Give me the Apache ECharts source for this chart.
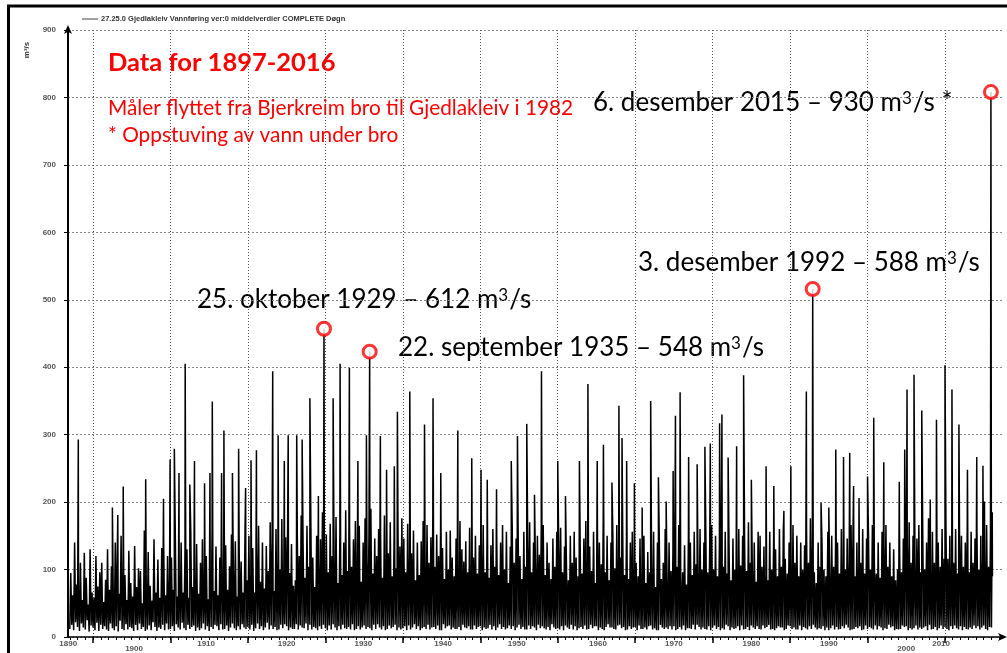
<!DOCTYPE html>
<html><head><meta charset="utf-8">
<script src="https://cdn.jsdelivr.net/npm/echarts@6/dist/echarts.min.js"></script>
<style>html,body{margin:0;padding:0;background:#fff}#c{width:1007px;height:653px}</style>
</head><body><div id="c"></div>
<script>
// ---- Data (daily mean discharge, m3/s) ----
// body samples: 8 per year, alternating low / high
const flow1890s = [ // 1897-1899
 12,95,18,62,10,140,22,78,
 15,70,9,110,20,55,14,125,
 11,88,25,48,8,130,17,66 ];
const flow1900s = [
 14,58,10,120,21,75,9,96, 18,110,12,52,16,85,11,130, 9,70,20,105,13,48,10,140,
 16,118,8,64,24,150,12,72, 10,92,19,55,11,128,15,80, 13,60,9,135,18,74,10,102,
 20,98,12,50,15,158,9,68, 11,126,17,76,10,54,22,145, 15,66,9,115,14,58,12,132,
 18,140,10,62,20,120,11,84 ];
const flow1910s = [
 12,118,16,70,9,150,19,60, 14,92,11,140,21,66,13,128, 10,130,18,58,12,155,15,74,
 17,86,9,138,14,64,10,110, 13,145,20,72,11,120,16,56, 9,100,15,160,12,68,18,134,
 16,62,10,118,19,150,11,88, 12,136,17,70,9,105,14,152, 20,94,13,142,10,60,16,124,
 11,112,19,66,14,158,12,84 ];
const flow1920s = [
 15,150,11,78,18,132,9,66, 13,120,20,165,12,82,16,140, 10,72,14,135,21,98,11,170,
 17,142,12,68,15,160,10,112, 11,100,18,175,13,70,19,148, 16,162,10,95,14,138,12,76,
 12,84,19,152,11,120,17,180, 14,136,13,88,20,165,10,104, 18,172,11,118,15,74,13,150,
 10,108,16,145,12,185,18,90 ];
const flow1930s = [
 13,152,10,96,17,168,11,120, 19,110,14,178,10,80,16,156, 11,92,18,140,13,188,12,98,
 15,160,11,104,19,145,10,172, 12,118,16,165,11,82,14,140, 17,176,12,112,15,150,13,190,
 10,94,18,146,12,120,19,160, 14,158,11,88,16,180,10,115, 12,124,17,170,13,90,15,152,
 18,102,10,162,14,134,11,176 ];
const flow1940s = [
 13,146,16,96,10,168,17,118, 11,124,14,158,19,84,12,140, 16,92,10,142,13,172,15,106,
 12,166,18,110,11,148,14,182, 15,104,12,152,17,120,10,160, 10,132,19,86,13,156,16,100,
 17,158,11,118,14,90,12,146, 12,98,15,172,10,130,18,112, 14,142,13,96,16,162,11,82,
 11,118,17,150,12,94,15,136 ];
const flow1950s = [
 16,128,10,166,14,96,12,150, 13,88,18,136,11,160,16,104, 10,150,14,92,19,140,12,166,
 15,100,11,156,13,80,17,134, 12,162,16,110,10,146,14,176, 18,120,12,86,15,156,11,104,
 11,144,17,170,12,96,16,140, 14,104,10,150,18,122,13,168, 16,166,13,92,11,140,15,110,
 10,86,19,146,14,104,12,156 ];
const flow1960s = [
 13,140,11,162,16,96,10,134, 17,106,14,84,12,150,18,110, 11,156,16,118,10,90,13,166,
 15,94,12,146,17,172,11,116, 12,134,18,98,13,156,16,80, 16,162,10,140,14,108,12,176,
 10,96,15,150,19,84,14,140, 14,146,12,102,11,166,17,116, 18,118,13,176,15,92,10,150,
 11,86,16,140,12,156,14,100 ];
const flow1970s = [
 15,110,10,90,17,146,12,70, 12,150,14,80,11,126,16,96, 17,92,11,156,13,74,10,140,
 10,134,18,86,14,110,12,160, 14,76,12,140,16,98,11,128, 16,156,10,104,12,166,15,90,
 11,96,17,136,10,78,13,150, 13,140,12,92,18,156,11,108, 18,84,15,160,11,100,14,140,
 12,150,11,96,16,134,10,166 ];
const flow1980s = [
 14,100,17,150,12,90,15,140, 10,166,13,104,11,156,18,94, 16,128,10,84,14,146,12,100,
 13,90,16,160,10,106,17,150, 11,146,12,98,15,170,10,110, 17,96,14,140,12,82,16,156,
 12,150,11,104,17,134,13,90, 15,84,18,156,11,100,12,146, 10,130,13,90,16,160,14,104,
 14,156,10,116,12,94,17,140 ];
const flow1990s = [
 16,104,12,166,14,110,11,150, 11,90,17,140,10,100,15,136, 13,160,11,110,16,176,12,146,
 18,96,14,80,11,140,13,104, 12,136,16,100,10,90,14,156, 10,84,13,150,17,104,11,140,
 15,140,11,94,12,160,16,88, 13,100,18,146,14,110,10,166, 11,156,12,90,15,140,13,104,
 16,110,10,160,11,94,17,146 ];
const flow2000s = [
 12,150,15,100,13,166,11,116, 17,94,11,140,16,88,14,156, 10,136,13,166,12,104,18,140,
 14,90,16,130,10,84,12,100, 11,156,12,96,17,146,15,166, 16,140,10,170,13,110,11,150,
 13,104,17,146,11,166,14,96, 12,160,14,100,16,140,10,176, 18,96,11,156,12,110,15,146,
 10,140,13,104,17,160,12,116 ];
const flow2010s = [ // 2010-2016
 15,166,12,116,10,150,16,104, 12,110,17,160,13,94,11,156, 16,150,10,104,15,140,12,170,
 11,96,14,156,12,110,17,146, 13,160,16,100,11,150,14,116, 17,116,12,166,10,104,15,156,
 14,90 ];
const bodyStartYears = [1897,1900,1910,1920,1930,1940,1950,1960,1970,1980,1990,2000,2010];

// larger flood peaks (decimal year, m3/s)
const peakYears = [
 1898.1,1902.5,1903.2,1903.9,1906.8,1909.1,1909.95,
 1910.5,1911.1,1911.9,1912.5,1913.1,1914.4,1915.1,1915.4,1916.6,1916.9,1918.0,1918.8,1919.7,
 1920.4,1921.1,1923.2,1923.9,1924.7,1925.2,1926.3,1927.0,1928.0,1929.1,
 1931.0,1931.9,1933.1,1934.2,1935.3,1937.1,1937.9,1938.9,1939.3,
 1940.9,1942.8,1943.9,1944.9,1947.1,1948.9,
 1950.1,1950.9,1952.1,1954.0,1954.8,1956.0,1957.0,1957.9,
 1960.0,1961.0,1962.8,1963.9,1965.1,1965.9,1967.0,1967.9,1968.3,1968.9,1969.9,
 1970.9,1972.0,1973.0,1974.0,1974.9,1975.2,1975.8,1976.9,1978.0,1979.0,1979.7,
 1980.9,1981.2,1982.0,1983.1,1984.0,1985.0,1986.9,1987.9,1989.2,
 1990.1,1992.1,1994.0,1995.0,1995.9,1996.9,1997.7,1998.2,1998.9,
 2000.0,2000.8,2002.1,2004.1,2004.8,2005.1,2006.0,2007.0,2008.1,2008.9,
 2010.0,2010.9,2011.8,2012.9,2014.1,2014.9,2015.1,2016.1 ];
const peakFlows = [
 293,192,181,223,234,205,263,
 279,243,405,226,261,228,243,349,243,306,243,279,221,
 262,277,394,299,261,299,299,293,354,209,
 354,405,399,261,299,298,248,253,334,
 364,315,354,243,306,265,
 248,233,219,261,298,316,211,394,
 261,209,261,375,261,285,229,343,295,261,228,
 192,350,237,201,246,328,363,267,256,282,287,
 317,330,266,283,388,233,253,224,187,
 253,364,199,192,278,267,273,224,206,
 238,325,259,230,278,367,389,336,204,322,
 403,367,315,248,267,254,201,185 ];

// annotated record floods
const annotYears = [1929.82, 1935.72, 1992.92, 2015.93];
const annotFlows = [457, 423, 516, 808];
const annotTexts = ['25. oktober 1929 – 612 m³/s', '22. september 1935 – 548 m³/s',
                    '3. desember 1992 – 588 m³/s', '6. desember 2015 – 930 m³/s *'];

// axis labels (the original software prints decade labels mid-decade)
const xLabelText = ['1890','1900','1910','1920','1930','1940','1950','1960','1970','1980','1990','2000','2010'];
const xLabelPos  = [1896.8,1905.3,1914.6,1925.0,1934.9,1945.2,1954.7,1965.2,1975.0,1985.0,1995.0,2005.0,2009.5];
const decadeTicks = [1900,1910,1920,1930,1940,1950,1960,1970,1980,1990,2000,2010];
const yearTicks = [];
for (let y = 1897; y <= 2017; y++) yearTicks.push(y);

const seriesName = '27.25.0 Gjedlakleiv Vannføring ver:0 middelverdier COMPLETE Døgn';

// ---- build the line ----
const bodyArrays = [flow1890s,flow1900s,flow1910s,flow1920s,flow1930s,flow1940s,flow1950s,
  flow1960s,flow1970s,flow1980s,flow1990s,flow2000s,flow2010s];
let pts = [];
bodyArrays.forEach((arr, k) => arr.forEach((v, i) => pts.push([bodyStartYears[k] + i / 8, v])));
peakYears.forEach((t, i) => pts.push([t, peakFlows[i]]));
annotYears.forEach((t, i) => pts.push([t, annotFlows[i]]));
pts.sort((a, b) => a[0] - b[0]);

const FONT = 'Lato';
function supText(s) { return s.replace('³', '{sup|3}'); }
function annot(x, y, s) {
  return {type: 'text', x: x, y: y, style: {
    text: supText(s), font: '26px ' + FONT, fill: '#000', verticalAlign: 'middle',
    rich: {sup: {font: '17px ' + FONT, fill: '#000', verticalAlign: 'top', padding: [0, 1, 0, 0]}}
  }};
}

const chart = echarts.init(document.getElementById('c'), null, {renderer: 'canvas'});
chart.setOption({
  animation: false,
  backgroundColor: '#fff',
  grid: {left: 68, right: 4, top: 30, bottom: 15, containLabel: false},
  legend: {
    data: [{name: seriesName, icon: 'rect'}],
    left: 77, top: 10, itemWidth: 16, itemHeight: 1, itemGap: 4,
    textStyle: {fontSize: 7.5, fontWeight: 'bold', color: '#333', fontFamily: 'Liberation Sans', padding: [0,0,0,-2]}
  },
  xAxis: [{
    type: 'value', min: 1896.77, max: 2017.49,
    axisLine: {lineStyle: {color: '#000', width: 1.5}, symbol: ['none', 'arrow'], symbolSize: [6, 9], symbolOffset: [0, 4]},
    axisTick: {customValues: decadeTicks, length: 6, lineStyle: {color: '#000', width: 1.5}},
    axisLabel: {
      customValues: xLabelPos, margin: 3,
      fontSize: 8, fontWeight: 'bold', color: '#555', fontFamily: 'Liberation Sans',
      formatter: function (v) {
        let best = 0;
        xLabelPos.forEach((p, i) => { if (Math.abs(p - v) < Math.abs(xLabelPos[best] - v)) best = i; });
        const t = xLabelText[best];
        return (t === '1900' || t === '2000') ? '{low|' + t + '}' : t;
      },
      rich: {low: {fontSize: 8, fontWeight: 'bold', color: '#555', fontFamily: 'Liberation Sans', padding: [5, 0, 0, 0]}}
    },
    splitLine: {show: true, lineStyle: {color: '#555', type: [1, 2], width: 1}}
  }, {
    type: 'value', min: 1896.77, max: 2017.49, position: 'bottom',
    axisLine: {show: false},
    axisTick: {customValues: yearTicks, length: 3, lineStyle: {color: '#000'}},
    axisLabel: {show: false}, splitLine: {show: false}
  }],
  yAxis: {
    type: 'value', min: 0, max: 900, interval: 100,
    axisLine: {show: true, lineStyle: {color: '#000', width: 2}, symbol: ['none', 'arrow'], symbolSize: [6, 9], symbolOffset: [0, 5]},
    axisTick: {show: true, length: 4, lineStyle: {color: '#000'}},
    axisLabel: {fontSize: 8, fontWeight: 'bold', color: '#555', fontFamily: 'Liberation Sans', margin: 12},
    splitLine: {show: true, lineStyle: {color: '#888', type: [2, 2], width: 1}}
  },
  series: [{
    name: seriesName, type: 'line', data: pts, showSymbol: false, sampling: 'none',
    lineStyle: {color: '#000', width: 1.5}, itemStyle: {color: '#444'}, z: 3, silent: true
  }, {
    name: 'flom', type: 'scatter', data: annotYears.map((t, i) => [t, annotFlows[i]]),
    symbol: 'circle', symbolSize: 13,
    itemStyle: {color: '#fff', borderColor: '#f00', borderWidth: 3}, z: 5, silent: true
  }],
  graphic: [
    {type: 'rect', shape: {x: 8.5, y: 6, width: 1200, height: 1200}, style: {fill: 'none', stroke: '#000', lineWidth: 3}, silent: true, z: 100},
    {type: 'text', x: 27, y: 50, rotation: Math.PI / 2, style: {text: 'm³/s', font: 'bold 8px Liberation Sans', fill: '#333', align: 'center', verticalAlign: 'middle'}},
    {type: 'text', x: 108, y: 63, style: {text: 'Data for 1897-2016', font: 'bold 25.5px ' + FONT, fill: '#ff0000', verticalAlign: 'middle'}},
    {type: 'text', x: 108, y: 108, style: {text: 'Måler flyttet fra Bjerkreim bro til Gjedlakleiv i 1982', font: '20.8px ' + FONT, fill: '#ff0000', verticalAlign: 'middle'}},
    {type: 'text', x: 108, y: 135, style: {text: '* Oppstuving av vann under bro', font: '20.8px ' + FONT, fill: '#ff0000', verticalAlign: 'middle'}},
    annot(197, 300, annotTexts[0]),
    annot(398, 348, annotTexts[1]),
    annot(638, 263, annotTexts[2]),
    annot(593, 103, annotTexts[3])
  ]
});
</script></body></html>
